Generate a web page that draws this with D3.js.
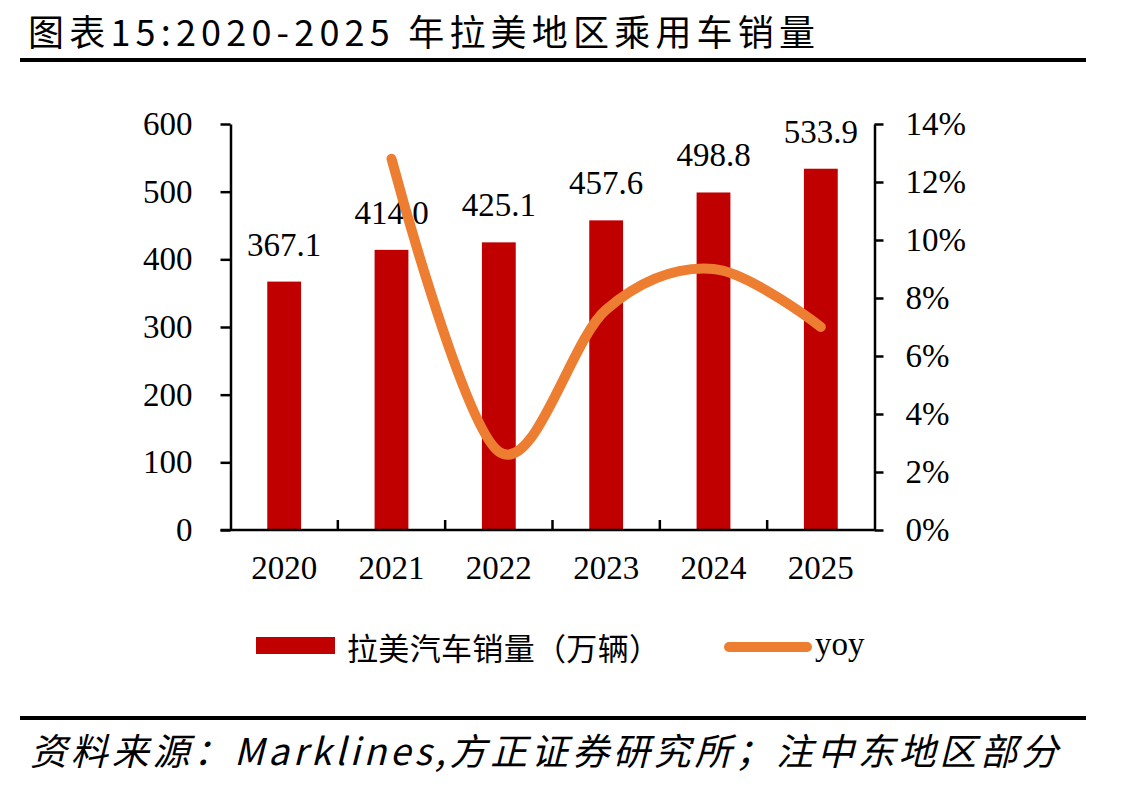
<!DOCTYPE html>
<html lang="zh">
<head>
<meta charset="UTF-8">
<title>拉美地区乘用车销量</title>
<script src="https://d3js.org/d3.v7.min.js"></script>
<style>
    body { margin: 0; padding: 0; background: #fff; }
    svg { display: block; }
    .num { font-family: "Liberation Serif", "Times New Roman", serif; font-size: 33px; fill: #000; }
    .cjk { font-family: "Noto Sans CJK SC", sans-serif; fill: #000; }
    .axis path, .axis line { stroke: #000; stroke-width: 2.5px; }
</style>
</head>
<body>
<svg id="chart" width="1130" height="789"></svg>
<script>
    // values
    const years = ["2020", "2021", "2022", "2023", "2024", "2025"];
    const sales = [367.1, 414.0, 425.1, 457.6, 498.8, 533.9];   // 万辆
    const yoy = [null, 12.8, 2.7, 7.6, 9.0, 7.0];               // %
    const leftTicks = [0, 100, 200, 300, 400, 500, 600];
    const rightTicks = [0, 2, 4, 6, 8, 10, 12, 14];

    const svg = d3.select("#chart");
    const plotL = 230.5, plotR = 874.5, plotT = 124, plotB = 530;

    const x = d3.scaleBand().domain(years).range([plotL, plotR]).paddingInner(0).paddingOuter(0),
          y = d3.scaleLinear().domain([0, 600]).range([plotB, plotT]),
          y2 = d3.scaleLinear().domain([0, 14]).range([plotB, plotT]);
    const barW = x.bandwidth() * 0.315;

    // title + rules
    svg.append("text").attr("class", "cjk").attr("x", 28).attr("y", 46)
        .style("font-size", "36px")
        .attr("textLength", 787).attr("lengthAdjust", "spacing")
        .text("图表15:2020-2025 年拉美地区乘用车销量");
    svg.append("rect").attr("x", 20).attr("y", 58).attr("width", 1066).attr("height", 4).attr("fill", "#000");
    svg.append("rect").attr("x", 20).attr("y", 716).attr("width", 1066).attr("height", 4).attr("fill", "#000");
    svg.append("text").attr("class", "cjk").attr("x", 30).attr("y", 765)
        .style("font-size", "37px").style("font-style", "italic")
        .attr("textLength", 1028).attr("lengthAdjust", "spacing")
        .text("资料来源：Marklines,方正证券研究所；注中东地区部分");

    // bars
    svg.selectAll(".bar")
        .data(years)
        .enter().append("rect")
        .attr("class", "bar")
        .attr("x", d => x(d) + (x.bandwidth() - barW) / 2)
        .attr("width", barW)
        .attr("y", (d, i) => y(sales[i]))
        .attr("height", (d, i) => plotB - y(sales[i]))
        .attr("fill", "#C00000");

    // left axis
    const gl = svg.append("g").attr("class", "axis").attr("transform", `translate(${plotL},0)`)
        .call(d3.axisLeft(y).tickValues(leftTicks).tickSize(10).tickPadding(28).tickSizeOuter(0));
    gl.selectAll("text").attr("class", "num").attr("fill", "#000");

    // right axis
    const gr = svg.append("g").attr("class", "axis").attr("transform", `translate(${plotR},0)`)
        .call(d3.axisRight(y2).tickValues(rightTicks).tickSize(9).tickPadding(22).tickSizeOuter(0)
            .tickFormat(d => d + "%"));
    gr.selectAll("text").attr("class", "num").attr("fill", "#000");

    // bottom axis
    const gb = svg.append("g").attr("class", "axis").attr("transform", `translate(0,${plotB})`)
        .call(d3.axisBottom(x).tickSize(0).tickPadding(26).tickSizeOuter(0));
    gb.selectAll("text").attr("class", "num").attr("fill", "#000");
    gb.select(".domain").attr("d", `M${plotL - 10},0H${plotR}`);
    gb.selectAll(".bt")
        .data(years.slice(1))
        .enter().append("line")
        .attr("class", "bt")
        .attr("x1", d => x(d)).attr("x2", d => x(d))
        .attr("y1", 0).attr("y2", -10);

    // value labels
    svg.selectAll(".val")
        .data(years)
        .enter().append("text")
        .attr("class", "num val")
        .attr("text-anchor", "middle")
        .attr("x", d => x(d) + x.bandwidth() / 2)
        .attr("y", (d, i) => y(sales[i]) - 26)
        .text((d, i) => sales[i].toFixed(1));

    // yoy line
    const pts = years.map((d, i) => [d, yoy[i]]).filter(p => p[1] !== null);
    const line = d3.line()
        .x(p => x(p[0]) + x.bandwidth() / 2)
        .y(p => y2(p[1]))
        .curve(d3.curveCatmullRom.alpha(0));
    svg.append("path")
        .datum(pts)
        .attr("d", line)
        .attr("fill", "none")
        .attr("stroke", "#ED7D31")
        .attr("stroke-width", 10)
        .attr("stroke-linecap", "round")
        .attr("stroke-linejoin", "round");

    // legend
    svg.append("rect").attr("x", 256).attr("y", 637).attr("width", 79).attr("height", 17).attr("fill", "#C00000");
    svg.append("text").attr("class", "cjk").attr("x", 347).attr("y", 646)
        .attr("dominant-baseline", "central")
        .style("font-size", "31px")
        .attr("textLength", 313).attr("lengthAdjust", "spacing")
        .text("拉美汽车销量（万辆）");
    svg.append("line").attr("x1", 729).attr("x2", 807).attr("y1", 647).attr("y2", 647)
        .attr("stroke", "#ED7D31").attr("stroke-width", 10).attr("stroke-linecap", "round");
    svg.append("text").attr("class", "num").attr("x", 815).attr("y", 655).text("yoy");
</script>
</body>
</html>
